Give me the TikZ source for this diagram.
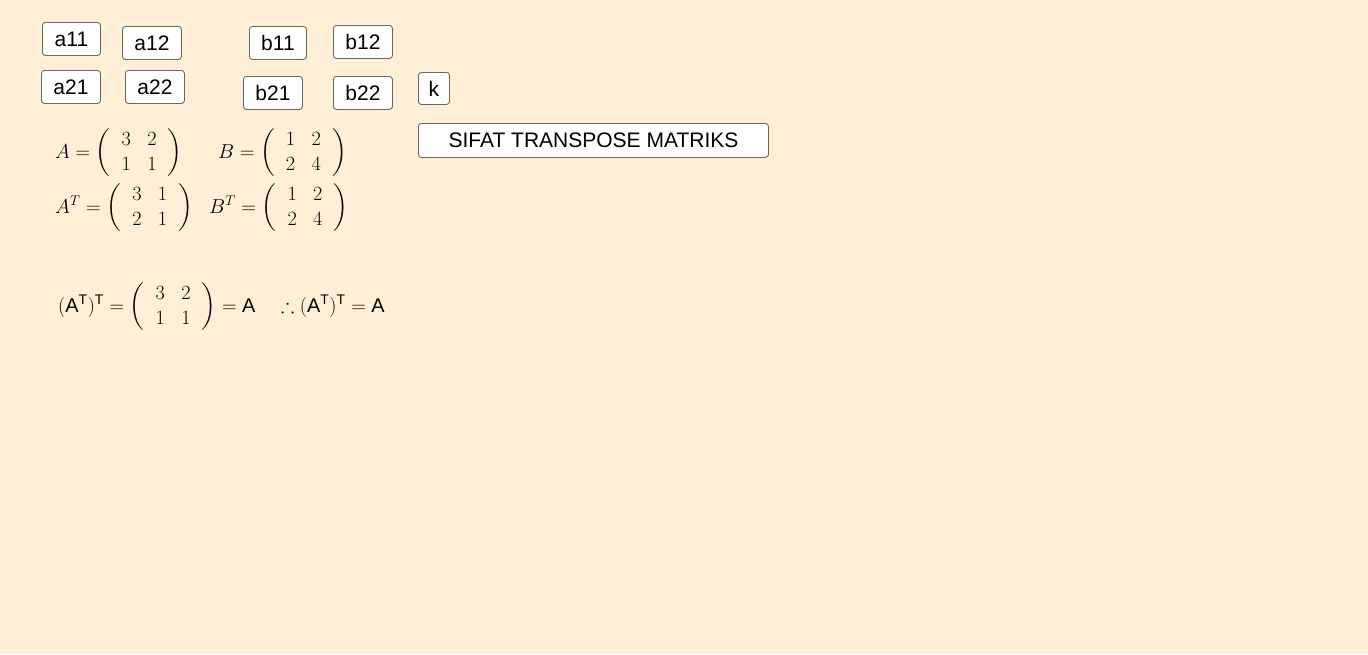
\documentclass[tikz,border=0pt]{standalone}
\usepackage{amsmath,amssymb}
\usepackage{fontspec}
\setsansfont{Liberation Sans}
\usetikzlibrary{positioning}
\definecolor{paper}{RGB}{255,239,214}
\setlength\arraycolsep{7pt}
\newcommand{\mtx}[4]{\left(\;\;\begin{matrix}#1&#2\\#3&#4\end{matrix}\;\;\right)}
\tikzset{
button/.style={draw=black!60, fill=white, rounded corners=3pt, line width=0.9pt,
  font=\sffamily\fontsize{21}{24}\selectfont, minimum height=33pt, inner xsep=3pt, anchor=north west}, % knobs
formula/.style={anchor=west, inner sep=0pt, scale=1.17, transform shape, font=\fontsize{17}{21}\selectfont}, % matrices
}
\begin{document}
\begin{tikzpicture}[x=1pt,y=-1pt]
\fill[paper] (0,0) rectangle (1368,654);
\useasboundingbox (0,0) rectangle (1368,654);
\node[button, minimum width=58pt] (a11) at (42,22) {a11};
\node[button, minimum width=59pt] (a12) at (122,26) {a12};
\node[button, minimum width=57pt] (b11) at (249,26) {b11};
\node[button, minimum width=59pt] (b12) at (333,25) {b12};
\node[button, minimum width=59pt] (a21) at (41,70) {a21};
\node[button, minimum width=59pt] (a22) at (125,70) {a22};
\node[button, minimum width=59pt] (b21) at (243,76) {b21};
\node[button, minimum width=59pt] (b22) at (333,76) {b22};
\node[button, minimum width=31pt, minimum height=32pt] (k) at (418,72) {k};
\node[button, minimum width=350pt, minimum height=34pt] (sifat) at (418,123) {SIFAT TRANSPOSE MATRIKS};
\node[formula] (matA) at (55,153) {$A=\mtx3211$};
\node[formula] (matB) at (218,153) {$B=\mtx1224$};
\node[formula] (matAT) at (55,208) {$A^T=\mtx3121$};
\node[formula] (matBT) at (209,208) {$B^T=\mtx1224$};
\node[formula] (prop) at (58,307) {$(\mathsf{A}^{\mathsf{T}})^{\mathsf{T}}=\mtx3211=\mathsf{A}\quad\therefore(\mathsf{A}^{\mathsf{T}})^{\mathsf{T}}=\mathsf{A}$};
\end{tikzpicture}
\end{document}
